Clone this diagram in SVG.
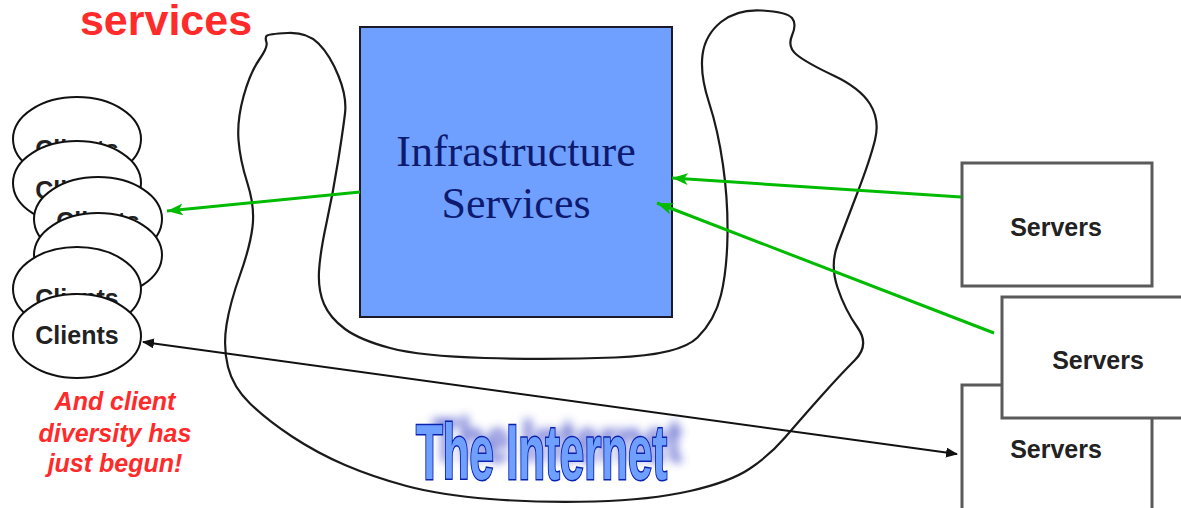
<svg xmlns="http://www.w3.org/2000/svg" width="1181" height="508" viewBox="0 0 1181 508">
<defs>
<style>
.cloud{fill:none;stroke:#1a1a1a;stroke-width:2.2}
.cli{fill:#fff;stroke:#111;stroke-width:2}
.clt{font-family:"Liberation Sans",Arial,sans-serif;font-weight:bold;font-size:25px;fill:#222;text-anchor:middle}
.srv{fill:#fff;stroke:#5a5a5a;stroke-width:3}
.srt{font-family:"Liberation Sans",Arial,sans-serif;font-weight:bold;font-size:25px;fill:#222;text-anchor:middle}
.green{stroke:#00BB00;stroke-width:3;fill:none}
.red{font-family:"Liberation Sans",Arial,sans-serif;font-weight:bold;fill:#FF2A2A}
</style>
<marker id="ga" markerUnits="userSpaceOnUse" markerWidth="18" markerHeight="14" refX="16" refY="6" orient="auto">
<path d="M0,0 L16,6 L0,12 L4,6 z" fill="#00BB00"/>
</marker>
<marker id="ba" markerUnits="userSpaceOnUse" markerWidth="14" markerHeight="12" refX="11" refY="5" orient="auto-start-reverse">
<path d="M0,0 L12,5 L0,10 z" fill="#111"/>
</marker>
<filter id="blur" x="-10%" y="-40%" width="120%" height="180%">
<feGaussianBlur stdDeviation="5"/>
</filter>
</defs>
<rect width="1181" height="508" fill="#fff"/>

<text class="red" x="166" y="35" font-size="43" text-anchor="middle">services</text>

<g id="internet-cloud">
<path class="cloud" d="M287.5,33 Q307,32 318.5,43.5 Q330,55 338.5,76 Q347,97 345,113.5 Q343,130 338,161.5 Q333,193 326.5,223 Q320,253 319,271.5 Q318,290 324,304 Q330,318 345,329 Q360,340 390,348 Q420,356 485,358 Q550,360 615,357.5 Q680,355 697.5,337.5 Q715,320 721,295 Q727,270 727.5,235 Q728,200 723,165 Q718,130 709,102.5 Q700,75 702.5,55 Q705,35 721,22 Q737,9 762,10.5 Q787,12 792,18 Q797,24 792,35.5 Q787,47 797,55 Q807,63 833.5,75.5 Q860,88 870,104 Q880,120 875,140 Q870,160 857.5,192.5 Q845,225 837.5,245 Q830,265 837.5,287.5 Q845,310 857.5,327.5 Q870,345 855,360 Q840,375 820,397.5 Q800,420 785,437.5 Q770,455 750,468.5 Q730,482 690,491 Q650,500 595,501.5 Q540,503 490,499 Q440,495 406.5,486 Q373,477 345,465 Q317,453 292,436.5 Q267,420 250,403.5 Q233,387 228,367 Q223,347 226.5,325 Q230,303 240,275 Q250,247 252.5,227 Q255,207 247.5,183.5 Q240,160 238.5,140 Q237,120 243.5,96.5 Q250,73 259,60 Q268,47 266.5,42.5 Q265,38 266.5,36 Q268,34 287.5,33 Z"/>
<g id="internet-label" font-family="'Liberation Sans',Arial,sans-serif" font-weight="bold" font-size="78">
<g filter="url(#blur)" opacity="0.85">
<text x="432" y="462" textLength="250" lengthAdjust="spacingAndGlyphs" fill="#4a52c8" transform="translate(0,462) scale(1,0.8) translate(0,-462)">The Internet</text>
</g>
<text x="416" y="479" textLength="251" lengthAdjust="spacingAndGlyphs" fill="#6FA0FF" stroke="#0a22b0" stroke-width="3" paint-order="stroke">The Internet</text>
</g>
</g>

<g id="infrastructure">
<rect x="360" y="27" width="312" height="290" fill="#70A0FF" stroke="#1a1a2a" stroke-width="2"/>
<text font-family="'Liberation Serif','Times New Roman',serif" font-size="44" fill="#0d1a6e" text-anchor="middle"><tspan x="516" y="166">Infrastructure</tspan><tspan x="516" y="218">Services</tspan></text>
</g>

<g id="clients">
<ellipse class="cli" cx="77" cy="139" rx="64" ry="42"/><text class="clt" x="77" y="158">Clients</text>
<ellipse class="cli" cx="77" cy="183" rx="64" ry="42"/><text class="clt" x="77" y="199">Clients</text>
<ellipse class="cli" cx="98" cy="219" rx="64" ry="42"/><text class="clt" x="98" y="230">Clients</text>
<ellipse class="cli" cx="98" cy="255" rx="64" ry="42"/>
<ellipse class="cli" cx="77" cy="289" rx="64" ry="42"/><text class="clt" x="77" y="307">Clients</text>
<ellipse class="cli" cx="77" cy="336" rx="64" ry="42"/><text class="clt" x="77" y="344">Clients</text>
</g>

<g id="note">
<text class="red" font-size="25" font-style="italic" text-anchor="middle"><tspan x="115" y="410">And client</tspan><tspan x="115" y="442">diversity has</tspan><tspan x="115" y="472">just begun!</tspan></text>
</g>

<g id="servers1">
<rect class="srv" x="962" y="163" width="190" height="123"/>
<text class="srt" x="1056" y="236">Servers</text>
</g>
<g id="servers3">
<rect class="srv" x="962" y="385" width="190" height="130"/>
<text class="srt" x="1056" y="458">Servers</text>
</g>
<g id="servers2">
<rect class="srv" x="1002" y="297" width="190" height="121"/>
<text class="srt" x="1098" y="369">Servers</text>
</g>

<g id="connectors">
<line class="green" x1="360" y1="192" x2="167" y2="211" marker-end="url(#ga)"/>
<line class="green" x1="961" y1="197" x2="672" y2="178" marker-end="url(#ga)"/>
<line class="green" x1="994" y1="333" x2="657" y2="203" marker-end="url(#ga)"/>
<line x1="143" y1="342" x2="957" y2="454" stroke="#111" stroke-width="2" marker-start="url(#ba)" marker-end="url(#ba)"/>
</g>
</svg>
